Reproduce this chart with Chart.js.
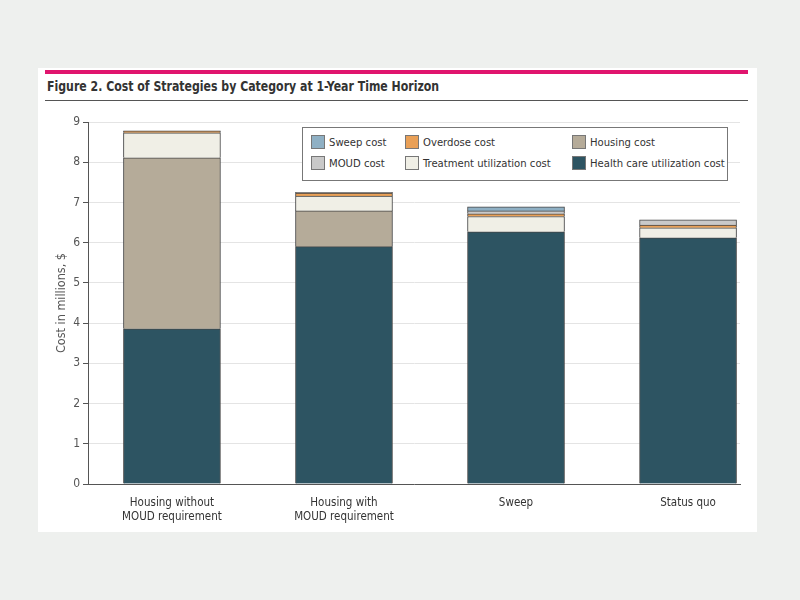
<!DOCTYPE html>
<html>
<head>
<meta charset="utf-8">
<script src="https://cdn.jsdelivr.net/npm/chart.js@4/dist/chart.umd.min.js"></script>
<style>
  body { margin: 0; background: #eef0ee; width: 800px; height: 600px; overflow: hidden; font-family: "DejaVu Sans Condensed", "Liberation Sans Narrow", sans-serif; }
  .panel { position: absolute; left: 38px; top: 68px; width: 719px; height: 464px; background: #fff; }
  .pink { position: absolute; left: 45px; top: 70px; width: 703px; height: 4px; background: #e0156e; }
  .title { position: absolute; left: 47px; top: 78px; font-size: 14.5px; font-weight: bold; color: #333; transform: scaleX(0.84); transform-origin: left top; white-space: nowrap; }
  .rule { position: absolute; left: 45px; top: 100px; width: 703px; height: 1px; background: #555; }
  canvas { position: absolute; left: 0; top: 0; }
  .legend { position: absolute; left: 302px; top: 127px; width: 424px; height: 52px; border: 1px solid #777; background: #fff; z-index: 2; font-size: 11.2px; color: #333; }
  .item { position: absolute; display: flex; align-items: center; white-space: nowrap; }
  .sw { width: 12px; height: 12px; border: 1px solid #777; margin-right: 4px; }
</style>
</head>
<body>
<div class="panel"></div>
<div class="pink"></div>
<div class="title">Figure 2. Cost of Strategies by Category at 1-Year Time Horizon</div>
<div class="rule"></div>
<canvas id="chart" width="800" height="600"></canvas>
<div class="legend" id="legend"></div>
<script>
const categories = [
  ['Housing without', 'MOUD requirement'],
  ['Housing with', 'MOUD requirement'],
  ['Sweep'],
  ['Status quo']
];
const healthCare = [3.86, 5.90, 6.27, 6.12];
const housing = [4.25, 0.89, 0, 0];
const treatment = [0.62, 0.37, 0.38, 0.25];
const overdose = [0.05, 0.07, 0.07, 0.07];
const moud = [0, 0.02, 0.07, 0.13];
const sweep = [0, 0, 0.10, 0];
const yTicks = [0, 1, 2, 3, 4, 5, 6, 7, 8, 9];

const series = [
  { label: 'Health care utilization cost', data: healthCare, color: '#2d5462' },
  { label: 'Housing cost', data: housing, color: '#b5ab99' },
  { label: 'Treatment utilization cost', data: treatment, color: '#f0efe6' },
  { label: 'Overdose cost', data: overdose, color: '#e9a057' },
  { label: 'MOUD cost', data: moud, color: '#c9c9c9' },
  { label: 'Sweep cost', data: sweep, color: '#8fb0c4' }
];

const fontFam = '"DejaVu Sans Condensed", "Liberation Sans Narrow", sans-serif';

// legend layout, same as the figure (two rows, three columns)
const legendOrder = [
  ['Sweep cost', 8, 7], ['Overdose cost', 102, 7], ['Housing cost', 269, 7],
  ['MOUD cost', 8, 28], ['Treatment utilization cost', 102, 28], ['Health care utilization cost', 269, 28]
];
const legendEl = document.getElementById('legend');
legendOrder.forEach(([name, x, y]) => {
  const s = series.find(d => d.label === name);
  const div = document.createElement('div');
  div.className = 'item';
  div.style.left = x + 'px';
  div.style.top = y + 'px';
  div.innerHTML = '<span class="sw" style="background:' + s.color + '"></span>' + name;
  legendEl.appendChild(div);
});

const datasets = series.map(s => ({
  label: s.label,
  data: s.data.map((v, i) => ({ x: i, y: v })),
  backgroundColor: s.color,
  borderColor: '#444',
  borderWidth: 1,
  barThickness: 97
}));

new Chart(document.getElementById('chart'), {
  type: 'bar',
  data: { datasets },
  options: {
    responsive: false,
    animation: false,
    layout: { padding: { left: 50, right: 60, top: 122, bottom: 0 } },
    plugins: { legend: { display: false }, tooltip: { enabled: false } },
    scales: {
      x: {
        type: 'linear',
        stacked: true,
        offset: false,
        bounds: 'data',
        min: -0.488,
        max: 3.302,
        afterBuildTicks: scale => { scale.ticks = categories.map((c, i) => ({ value: i })); },
        afterFit: scale => { scale.height = 116; },
        grid: { display: false },
        border: { color: '#555', width: 1 },
        ticks: {
          callback: v => categories[v],
          color: '#333',
          font: { family: fontFam, size: 11.5 },
          padding: 4,
          maxRotation: 0,
          autoSkip: false
        }
      },
      y: {
        stacked: true,
        min: 0,
        max: 9,
        afterBuildTicks: scale => { scale.ticks = yTicks.map(v => ({ value: v })); },
        afterFit: scale => { scale.width = 38; },
        grid: { color: '#e4e4e4', tickColor: '#555', tickLength: 5 },
        border: { color: '#555', width: 1 },
        ticks: {
          color: '#555',
          font: { family: fontFam, size: 12 },
          padding: 3
        },
        title: {
          display: true,
          text: 'Cost in millions, $',
          color: '#555',
          font: { family: fontFam, size: 12.5 }
        }
      }
    }
  }
});
</script>
</body>
</html>
